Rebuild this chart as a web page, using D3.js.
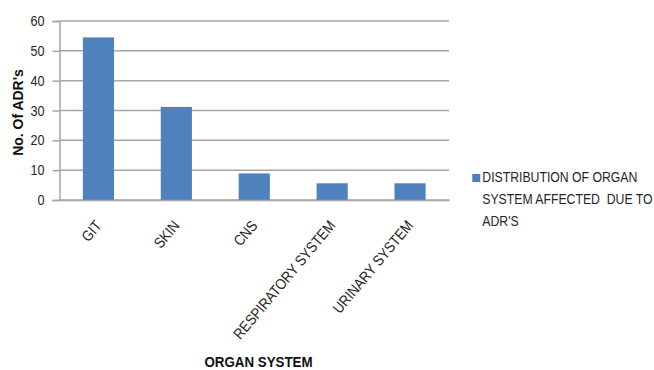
<!DOCTYPE html>
<html>
<head>
<meta charset="utf-8">
<script src="https://cdn.jsdelivr.net/npm/d3@7"></script>
<style>
  html, body { margin: 0; padding: 0; background: #fff; }
  svg { display: block; font-family: "Liberation Sans", Arial, sans-serif; }
</style>
</head>
<body>
<svg id="chart" width="654" height="370"></svg>
<script>
// Organ systems affected by adverse drug reactions
const categories = ["GIT", "SKIN", "CNS", "RESPIRATORY SYSTEM", "URINARY SYSTEM"];
const values = [54.5, 31.2, 8.9, 5.6, 5.6];
const yTicks = [0, 10, 20, 30, 40, 50, 60];
const seriesName = ["DISTRIBUTION OF ORGAN", "SYSTEM AFFECTED  DUE TO", "ADR'S"];

const svg = d3.select("#chart");
const plot = { left: 59.5, right: 449, top: 21, bottom: 200 };
const barColor = "#4f81bd";
const gridColor = "#a6a6a6";
const textColor = "#262626";

// narrow the sans face so the lettering sets like a condensed office font
function condense(sel, factor) {
  sel.each(function () {
    const len = this.getComputedTextLength();
    d3.select(this)
      .attr("textLength", len * factor)
      .attr("lengthAdjust", "spacingAndGlyphs");
  });
}

const x = d3.scaleBand()
  .domain(categories)
  .range([plot.left, plot.right])
  .paddingInner(0.6)
  .paddingOuter(0.3);

const y = d3.scaleLinear()
  .domain([0, 60])
  .range([plot.bottom, plot.top]);

// horizontal gridlines
svg.append("g")
  .selectAll("line")
  .data(yTicks)
  .join("line")
  .attr("x1", plot.left)
  .attr("x2", plot.right)
  .attr("y1", d => y(d))
  .attr("y2", d => y(d))
  .attr("stroke", gridColor)
  .attr("stroke-width", 1.5);

// y axis
const yAxis = svg.append("g")
  .attr("transform", `translate(${plot.left},0)`)
  .call(d3.axisLeft(y).tickValues(yTicks).tickSize(7).tickPadding(8));
yAxis.select(".domain").attr("stroke", gridColor).attr("stroke-width", 1.5);
yAxis.selectAll(".tick line").attr("stroke", gridColor).attr("stroke-width", 1.5);
yAxis.selectAll(".tick text")
  .attr("font-size", 14.5)
  .attr("font-family", "Liberation Sans, Arial, sans-serif")
  .attr("fill", textColor)
  .call(condense, 0.87);

// bars
svg.append("g")
  .selectAll("rect")
  .data(categories)
  .join("rect")
  .attr("x", d => x(d))
  .attr("width", x.bandwidth())
  .attr("y", (d, i) => y(values[i]))
  .attr("height", (d, i) => y(0) - y(values[i]))
  .attr("fill", barColor);

// x axis with slanted category labels
const xAxis = svg.append("g")
  .attr("transform", `translate(0,${plot.bottom})`)
  .call(d3.axisBottom(x).tickSize(0).tickPadding(0));
xAxis.select(".domain").attr("stroke", gridColor).attr("stroke-width", 1.5);
xAxis.selectAll(".tick text")
  .attr("font-size", 15)
  .attr("font-family", "Liberation Sans, Arial, sans-serif")
  .attr("fill", textColor)
  .attr("text-anchor", "end")
  .attr("dy", 0)
  .attr("y", 0)
  .attr("transform", "translate(4,26) rotate(-50)")
  .call(condense, 0.87);

// axis titles
svg.append("text")
  .attr("transform", "translate(22.5,112.5) rotate(-90)")
  .attr("text-anchor", "middle")
  .attr("font-size", 15)
  .attr("font-weight", "bold")
  .attr("fill", "#111")
  .text("No. Of ADR's")
  .call(condense, 0.93);

svg.append("text")
  .attr("x", 258.5)
  .attr("y", 366.5)
  .attr("text-anchor", "middle")
  .attr("font-size", 14.5)
  .attr("font-weight", "bold")
  .attr("fill", "#111")
  .text("ORGAN SYSTEM")
  .call(condense, 0.92);

// legend: swatch plus a three-line series name, set narrow by a horizontal scale
const legend = svg.append("g").attr("transform", "translate(472.3,174)");
legend.append("rect")
  .attr("width", 8)
  .attr("height", 8)
  .attr("fill", barColor);
legend.append("text")
  .attr("transform", "translate(10,8.3) scale(0.845,1)")
  .attr("font-size", 14.5)
  .attr("fill", textColor)
  .style("white-space", "pre")
  .selectAll("tspan")
  .data(seriesName)
  .join("tspan")
  .attr("x", 0)
  .attr("dy", (d, i) => i === 0 ? 0 : 22)
  .text(d => d);
</script>
</body>
</html>
